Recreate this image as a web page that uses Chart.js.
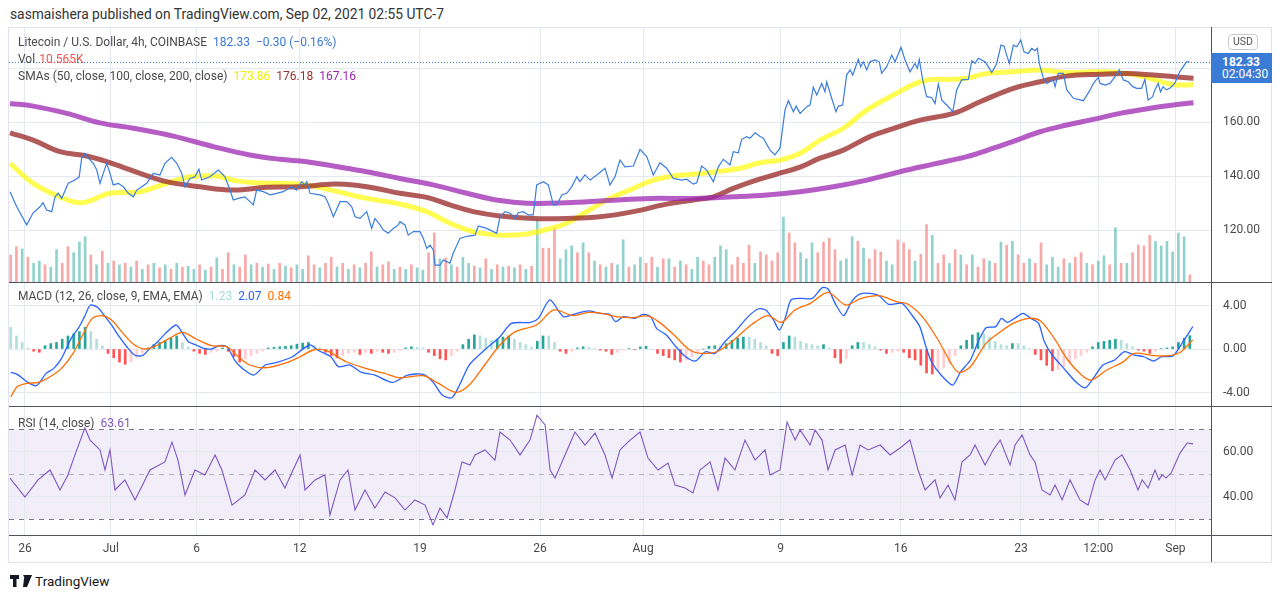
<!DOCTYPE html>
<html>
<head>
<meta charset="utf-8">
<script src="https://cdn.jsdelivr.net/npm/chart.js@4.4.0/dist/chart.umd.min.js"></script>
<style>
  body { margin: 0; background: #fff; width: 1280px; height: 598px; position: relative; overflow: hidden;
         font-family: Roboto, "Open Sans", sans-serif; color: #4a4a4a; }
  canvas { position: absolute; left: 9px; }
  .txt { position: absolute; white-space: nowrap; font-size: 12px; line-height: 16px; }
  .txt span { margin-left: 6px; }
  #frame { position: absolute; left: 8px; top: 27px; width: 1264px; height: 536px; box-sizing: border-box; border: 1px solid #e0e3eb; }
  #tag { position: absolute; left: 1211px; width: 61px; height: 30px; box-sizing: border-box; padding: 3px 0 0 11px;
         background: #3a7bd5; color: #fff; font-size: 12px; line-height: 12px; }
  #usd { position: absolute; left: 1228px; top: 34px; width: 30px; height: 16px; box-sizing: border-box; border: 1px solid #c9cbd1;
         border-radius: 4px; font-size: 10.5px; line-height: 14px; text-align: center; color: #555; background: #fff; }
</style>
</head>
<body>
<div class="txt" style="left:10px;top:6px;font-size:13.8px;color:#333">sasmaishera published on TradingView.com, Sep 02, 2021 02:55 UTC-7</div>
<div id="frame"></div>
<canvas id="cPrice" width="1263" height="256" style="top:27px"></canvas>
<canvas id="cMacd" width="1263" height="124" style="top:283px"></canvas>
<canvas id="cRsi" width="1263" height="155" style="top:407px"></canvas>

<div class="txt" style="left:18px;top:34px">Litecoin / U.S. Dollar, 4h, COINBASE<span style="color:#3a78d8">182.33</span><span style="color:#3a78d8">−0.30 (−0.16%)</span></div>
<div class="txt" style="left:18px;top:51px">Vol<span style="color:#ef5350;margin-left:4px">10.565K</span></div>
<div class="txt" style="left:18px;top:68px">SMAs (50, close, 100, close, 200, close)<span style="color:#f2f000">173.86</span><span style="color:#9c3030">176.18</span><span style="color:#9c27b0">167.16</span></div>
<div class="txt" style="left:18px;top:288px">MACD (12, 26, close, 9, EMA, EMA)<span style="color:#a6dcd5">1.23</span><span style="color:#2962ff">2.07</span><span style="color:#ff6d00">0.84</span></div>
<div class="txt" style="left:18px;top:415px">RSI (14, close)<span style="color:#7e57c2">63.61</span></div>

<div id="usd">USD</div>
<div id="tag"><b id="tagPrice"></b><br><span id="tagTime"></span></div>

<div class="txt" style="left:10px;top:573px;font-size:13.5px;color:#131722">
  <svg width="22" height="12" viewBox="0 0 22 12" style="vertical-align:-1px">
    <path d="M0 0h9v4H6.5v8H3V4H0z M10 0h3.2a2 2 0 1 1 0 .01z" fill="#131722"/>
    <path d="M14.5 0H22l-5 12h-4z" fill="#131722"/>
  </svg> TradingView</div>

<script>
// time axis: days since Jun 26 00:00
const xMin = -0.93, xMax = 69.07;
const timeTickDays = [0, 5, 10, 16, 23, 30, 36, 44, 51, 58, 62.5, 67];
const timeTickLabels = ['26', 'Jul', '6', '12', '19', '26', 'Aug', '9', '16', '23', '12:00', 'Sep'];

const priceTicks = [120, 140, 160, 180];
const macdTicks = [-4, 0, 4];
const rsiTicks = [40, 60];
const rsiLevels = [30, 50, 70];
const lastPrice = 182.33;
const countdown = '02:04:30';

// close price [day, value]
const priceLine = [
  [-0.87,134.2],[-0.48,128.6],[0.10,121.9],[0.47,126.3],[0.87,128.6],[1.05,130.1],[1.26,127.4],[1.56,126.8],[1.75,132.3],[1.94,133.6],
  [2.14,131.7],[2.43,136.0],[2.52,137.3],[2.91,138.5],[3.16,139.7],[3.30,146.6],[3.49,148.4],[3.69,146.6],[3.98,144.7],[4.18,142.2],
  [4.37,137.3],[4.56,141.0],[4.76,144.7],[4.95,141.0],[5.14,136.7],[5.43,137.3],[5.73,136.0],[6.02,133.6],[6.31,132.3],[6.51,134.8],
  [6.80,136.0],[7.09,137.3],[7.47,141.0],[7.86,140.4],[8.15,144.7],[8.54,146.9],[8.84,144.7],[9.13,141.0],[9.32,136.0],[9.61,139.1],
  [9.90,139.7],[10.13,142.5],[10.29,138.5],[10.77,139.7],[11.26,142.2],[11.65,139.7],[11.94,134.8],[12.13,131.1],[12.42,131.7],[12.81,132.3],
  [13.10,130.5],[13.30,129.3],[13.49,134.8],[13.88,134.2],[14.27,133.0],[14.66,133.6],[15.04,134.2],[15.53,136.0],[15.82,134.8],[16.12,137.9],
  [16.31,136.7],[16.41,137.9],[16.60,133.6],[17.18,133.0],[17.47,132.3],[17.66,129.9],[17.96,124.9],[18.35,130.5],[18.74,130.5],[19.03,128.6],
  [19.22,124.9],[19.51,124.3],[19.90,126.8],[20.19,120.6],[20.38,124.3],[20.68,121.9],[20.87,120.0],[21.16,118.8],[21.45,120.6],[21.74,121.9],
  [21.84,123.1],[22.13,121.9],[22.32,118.1],[22.62,119.4],[23.01,119.4],[23.20,116.9],[23.40,113.2],[23.59,114.4],[23.78,112.6],[23.88,107.0],
  [24.17,107.0],[24.36,108.9],[24.56,108.3],[24.75,107.7],[24.94,111.4],[25.33,116.9],[25.63,117.5],[25.92,117.8],[26.21,118.1],[26.40,121.5],
  [26.89,120.6],[27.47,118.8],[27.66,124.9],[27.96,126.8],[28.25,126.2],[28.54,124.3],[28.73,126.4],[29.02,126.8],[29.31,125.6],[29.60,125.6],
  [29.80,136.7],[30.19,137.9],[30.48,136.7],[30.77,129.3],[30.97,129.3],[31.26,133.0],[31.55,133.6],[31.84,136.0],[32.14,139.7],[32.32,137.9],
  [32.61,140.4],[32.91,138.5],[33.30,140.4],[33.78,142.9],[34.07,136.7],[34.36,139.7],[34.65,145.9],[34.94,143.4],[35.43,143.7],[35.82,149.9],
  [36.21,147.2],[36.59,140.4],[36.98,144.9],[37.37,142.9],[37.76,139.1],[38.25,138.5],[38.54,138.8],[38.92,137.0],[39.12,137.5],[39.41,143.7],
  [39.70,142.2],[40.09,137.9],[40.38,143.4],[40.67,146.2],[41.06,144.1],[41.25,149.0],[41.54,148.6],[41.74,153.6],[42.03,154.6],[42.22,154.0],
  [42.52,156.0],[42.81,154.6],[43.00,154.0],[43.39,149.6],[43.68,147.8],[43.97,150.3],[44.26,164.4],[44.46,167.9],[44.75,163.8],[44.91,165.9],
  [45.14,163.2],[45.53,165.7],[45.72,166.3],[45.91,172.9],[46.11,170.0],[46.40,174.3],[46.59,171.2],[46.69,174.9],[46.98,168.8],[47.23,163.8],
  [47.37,165.9],[47.62,166.3],[47.85,177.4],[48.05,179.3],[48.21,177.4],[48.53,183.2],[48.67,180.5],[48.82,182.3],[49.02,179.3],[49.21,182.3],
  [49.50,183.0],[49.75,182.3],[49.89,178.0],[50.18,180.5],[50.48,184.8],[50.67,182.3],[51.02,187.7],[51.25,183.0],[51.54,178.6],[51.83,181.7],
  [51.97,179.9],[52.08,183.2],[52.28,175.6],[52.51,169.4],[52.80,169.1],[53.00,166.9],[53.19,174.1],[53.39,168.1],[53.68,166.3],[54.03,163.8],
  [54.26,171.9],[54.55,175.6],[54.94,175.8],[55.14,182.7],[55.33,181.7],[55.52,183.6],[55.91,182.3],[56.10,180.5],[56.30,178.3],[56.59,181.7],
  [56.84,188.5],[57.02,188.1],[57.17,184.8],[57.33,181.7],[57.56,188.5],[57.76,187.9],[57.99,190.4],[58.18,186.0],[58.43,185.4],[58.63,187.3],
  [58.82,186.4],[58.96,187.3],[59.07,181.7],[59.31,176.2],[59.50,174.3],[59.89,175.6],[59.99,173.1],[60.18,178.0],[60.47,178.0],[60.67,171.9],
  [61.06,168.8],[61.64,167.9],[62.03,171.9],[62.22,174.3],[62.51,176.6],[62.61,174.3],[62.90,173.7],[63.19,174.3],[63.48,176.8],[63.73,179.3],
  [63.96,175.6],[64.25,174.9],[64.51,173.1],[64.74,172.5],[65.03,172.5],[65.22,175.8],[65.41,168.1],[65.67,169.4],[65.80,171.9],[65.99,174.3],
  [66.13,171.2],[66.28,173.1],[66.47,171.9],[66.67,172.5],[66.96,174.3],[67.25,178.6],[67.64,182.3],[67.83,182.33]
];

const sma50 = [
  [-0.87,144.7],[0.48,137.3],[2.04,132.3],[3.30,130.1],[4.95,133.6],[6.70,134.2],[8.25,137.3],[9.61,139.7],[11.16,140.0],[12.13,138.5],
  [13.30,137.5],[16.02,137.0],[17.96,134.6],[19.90,131.7],[21.84,129.6],[23.40,126.8],[24.75,122.5],[26.11,119.4],[27.66,118.1],[29.22,118.5],
  [30.38,120.2],[31.55,122.5],[32.71,126.8],[33.88,131.1],[35.43,135.4],[36.59,138.5],[37.76,140.0],[38.92,140.7],[40.28,141.6],[41.64,142.9],
  [42.81,144.9],[43.97,145.9],[45.14,148.4],[46.30,153.3],[47.66,157.7],[49.02,164.4],[50.57,170.0],[52.32,175.3],[53.87,175.8],[54.85,176.2],
  [56.01,178.0],[57.56,178.6],[59.11,179.3],[60.67,178.3],[62.22,178.6],[63.77,178.3],[65.52,176.2],[66.49,174.3],[67.08,173.7],[68.05,173.86]
];
const sma100 = [
  [-0.87,156.0],[0.48,153.3],[2.04,149.0],[3.59,147.4],[4.76,145.3],[6.70,141.0],[8.25,137.9],[10.19,136.0],[12.13,134.8],[14.08,135.8],
  [16.02,136.0],[17.96,137.0],[19.13,136.7],[20.48,135.4],[21.84,133.6],[23.40,132.1],[24.75,129.3],[26.11,126.8],[27.66,125.2],[29.60,124.3],
  [31.55,124.3],[33.49,124.9],[35.43,126.8],[37.37,129.6],[38.92,131.1],[40.09,132.3],[41.25,135.4],[42.42,138.1],[43.78,140.7],[45.14,143.3],
  [46.30,146.6],[47.66,149.6],[49.21,154.6],[50.77,158.0],[52.13,160.7],[54.07,163.2],[55.62,167.5],[57.56,172.5],[59.11,174.9],[60.67,177.0],
  [62.61,177.7],[64.16,178.0],[65.71,177.4],[66.88,176.8],[68.05,176.18]
];
const sma200 = [
  [-0.87,166.9],[0.48,165.9],[2.43,163.2],[4.37,159.7],[6.31,157.7],[8.64,154.8],[10.97,150.9],[13.10,147.8],[14.85,146.2],[16.41,145.3],
  [17.96,143.7],[19.90,141.6],[21.84,139.1],[23.78,136.7],[25.73,133.6],[27.66,130.9],[29.22,129.9],[31.55,130.1],[33.88,130.9],[36.40,131.7],
  [38.92,131.7],[41.25,132.3],[43.20,133.0],[45.14,134.2],[47.08,136.0],[49.02,138.5],[50.96,141.6],[52.90,144.4],[54.85,147.2],[56.40,150.3],
  [57.76,153.3],[59.11,156.4],[60.67,158.9],[62.22,161.0],[63.77,163.2],[65.52,165.1],[66.88,166.3],[68.05,167.16]
];

// bars every 8 hours starting at barStart
const barStart = -0.83, barStep = 1 / 3;
const volumeK = [
  37,48,45,34,26,29,24,21,44,26, 48,40,54,61,37,24,42,26,29,24, 26,21,29,18,24,26,20,24,18,26,
  21,22,18,24,17,21,33,18,40,24, 21,37,24,26,21,25,18,26,22,20, 24,18,36,24,20,26,34,21,26,18,
  24,20,26,41,21,24,28,18,21,18, 24,20,17,40,66,32,33,24,21,34, 26,22,20,32,18,24,21,22,20,24,
  18,22,83,46,46,73,32,44,49,40, 53,40,29,24,21,26,24,57,21,24, 34,26,34,21,32,32,21,29,24,18,
  34,29,24,34,49,44,24,34,26,50, 26,41,37,29,40,87,66,53,40,32, 53,40,54,59,44,29,32,61,55,46,
  32,44,41,29,24,57,53,44,29,38, 77,63,26,37,26,44,37,24,37,21, 32,29,26,54,50,55,37,26,32,26,
  53,24,34,21,32,26,34,40,26,24, 29,36,24,73,26,26,40,50,49,63, 55,49,55,41,66,61,10.565
];
const volUp = [
  0,0,1,0,1,1,0,1,1,0, 0,1,1,1,0,1,0,1,0,1, 0,1,0,1,0,1,0,1,0,1, 0,1,1,0,1,0,1,0,0,1,
  0,0,1,0,1,0,1,0,1,0, 1,1,0,0,1,0,0,1,0,1, 0,1,0,0,1,0,0,1,0,1, 0,1,1,0,0,1,0,1,0,1,
  1,0,1,0,1,0,1,0,1,0, 1,0,1,0,0,0,1,1,1,0, 1,0,1,0,1,0,1,1,0,1, 1,0,0,1,0,1,0,1,0,1,
  1,0,0,1,1,1,0,0,0,0, 1,0,0,0,0,1,0,0,1,1, 1,0,0,0,0,1,1,1,0,1, 0,0,0,1,1,0,0,0,1,0,
  0,1,0,0,1,0,1,0,1,0, 0,1,0,1,0,1,0,0,1,0, 0,1,1,1,0,1,0,0,1,0, 1,1,0,1,0,1,0,0,0,0,
  1,1,1,1,1,1,0
];
const macdHist = [
  2.0,1.2,0.6,0.1,-0.2,-0.3,0.3,0.5,0.6,0.9, 1.2,1.4,1.6,2.0,1.6,0.9,0.3,-0.4,-0.8,-1.2,
  -1.4,-1.2,-0.8,-0.4,0.1,0.4,0.6,0.8,1.0,1.2, 0.6,0.2,-0.2,-0.4,-0.5,-0.3,-0.2,0.1,-0.2,-0.7,
  -1.2,-0.9,-0.6,-0.4,-0.2,0.1,0.15,0.2,0.25,0.3, 0.45,0.55,0.6,0.3,0.1,-0.3,-0.6,-0.8,-0.6,-0.4,
  -0.3,-0.5,-0.3,-0.4,-0.2,-0.3,-0.4,-0.3,-0.15,0.1, 0.2,0.15,0.1,-0.3,-0.6,-0.9,-1.0,-0.6,-0.2,0.4,
  0.9,1.3,1.2,1.0,0.8,0.9,1.1,1.2,0.9,0.6, 0.4,0.2,0.7,1.2,1.2,0.6,-0.2,-0.4,-0.2,0.1,
  0.2,0.15,0.05,-0.1,-0.2,-0.5,-0.3,-0.1,0.05,-0.05, 0.2,0.25,0.0,-0.4,-0.6,-0.8,-1.0,-1.2,-1.0,-0.7,
  -0.4,0.0,0.25,0.3,0.3,0.5,0.8,1.0,1.1,1.1, 0.9,0.6,0.3,-0.4,-0.6,0.6,1.2,1.1,0.7,0.5,
  0.4,0.3,0.4,0.1,-0.8,-1.3,-0.9,0.3,0.6,0.6, 0.4,0.2,-0.1,-0.4,-0.3,-0.2,-0.3,-0.8,-1.0,-1.5,
  -2.2,-2.3,-2.0,-1.7,-1.3,-0.6,0.3,0.8,1.3,1.5, 1.4,1.1,0.7,0.4,0.3,0.5,0.5,0.3,0.05,-0.5,
  -1.0,-1.5,-2.0,-1.9,-1.6,-1.3,-0.9,-0.6,-0.3,0.2, 0.6,0.7,0.8,0.9,0.8,0.5,0.2,-0.1,-0.2,-0.4,
  -0.2,0.05,0.1,0.2,0.6,1.0,1.23
];

const macdLine = [
  [-0.83,-2.15],[-0.45,-2.33],[0.11,-3.01],[0.67,-3.37],[1.23,-2.24],[1.68,-1.78],[2.13,-0.86],[2.69,0.98],[3.13,1.96],[3.47,2.98],
  [3.81,4.05],[4.26,3.80],[4.59,3.13],[5.04,2.21],[5.49,1.13],[5.93,0.21],[6.38,-0.55],[6.83,-0.61],[7.28,0.06],[7.73,0.67],
  [8.18,1.44],[8.80,2.21],[9.18,1.44],[9.52,0.67],[9.97,0.37],[10.41,0.06],[10.86,0.0],[11.31,0.31],[11.76,0.21],[12.21,-1.01],
  [12.66,-1.78],[13.33,-2.39],[14.00,-1.47],[14.67,-1.23],[15.57,-0.71],[16.58,0.37],[17.14,-0.18],[17.81,-0.71],[18.26,-1.63],[18.93,-1.47],
  [19.60,-2.15],[20.38,-2.39],[21.39,-3.07],[22.29,-2.39],[23.19,-2.33],[23.75,-3.01],[24.30,-4.23],[24.86,-4.48],[25.31,-3.31],[25.87,-1.47],
  [26.77,-0.09],[27.66,1.13],[28.33,2.36],[29.45,2.45],[29.90,2.82],[30.57,4.51],[31.36,2.98],[32.14,3.28],[32.81,3.50],[33.49,3.28],
  [34.05,3.19],[34.40,2.52],[34.85,2.98],[35.53,2.82],[35.99,3.19],[36.44,2.98],[36.78,1.90],[37.35,1.29],[37.91,0.21],[38.48,-0.71],
  [39.05,-1.10],[39.62,-0.25],[40.19,-0.40],[40.76,0.67],[41.44,1.75],[42.11,2.98],[42.69,3.68],[43.14,3.59],[43.59,2.67],[43.93,1.75],
  [44.27,2.82],[44.61,4.51],[45.18,4.66],[45.86,4.66],[46.43,5.64],[46.77,5.52],[47.23,4.05],[47.68,3.07],[48.14,4.36],[48.59,5.03],
  [49.16,5.12],[49.73,4.91],[50.29,4.11],[51.08,4.20],[51.65,3.13],[52.11,2.06],[52.44,0.37],[52.79,-1.17],[53.35,-2.39],[54.03,-3.31],
  [54.49,-2.09],[55.06,-1.01],[55.51,0.67],[55.97,1.96],[56.53,2.06],[56.87,2.82],[57.21,2.45],[57.78,2.98],[58.12,3.28],[58.58,2.82],
  [59.03,2.36],[59.37,0.67],[59.82,-0.55],[60.50,-1.78],[61.19,-3.01],[61.76,-3.56],[62.21,-2.70],[62.78,-1.47],[63.46,-1.01],[64.03,-0.25],
  [64.60,-0.55],[65.16,-0.71],[65.73,-1.10],[66.19,-0.71],[66.87,-0.61],[67.44,0.67],[68.01,2.07]
];
const signalLine = [
  [-0.83,-4.39],[-0.45,-3.47],[0.11,-3.16],[0.79,-3.07],[1.46,-2.55],[2.13,-1.78],[2.80,-0.40],[3.36,1.29],[3.92,2.82],[4.48,3.07],
  [5.04,2.67],[5.71,1.44],[6.38,0.37],[7.06,0.0],[7.73,0.37],[8.40,0.98],[9.18,1.53],[9.97,0.92],[10.86,0.31],[11.76,0.21],
  [12.43,-0.71],[13.10,-1.47],[14.00,-1.72],[15.12,-1.32],[16.02,-0.71],[16.80,-0.09],[17.58,-0.18],[18.71,-1.17],[19.83,-1.78],[20.94,-2.24],
  [21.84,-2.64],[23.19,-2.45],[24.08,-3.16],[25.09,-3.99],[25.87,-3.31],[26.77,-1.47],[27.66,0.37],[28.56,1.60],[29.79,2.21],[30.80,3.59],
  [31.92,3.07],[32.81,3.37],[33.59,3.28],[34.40,2.98],[35.30,2.88],[36.21,3.04],[36.89,2.52],[37.80,1.29],[38.71,-0.09],[39.39,-0.40],
  [40.30,-0.25],[41.21,0.74],[42.34,2.27],[43.25,3.07],[44.05,2.45],[44.84,3.59],[45.74,4.20],[46.77,5.21],[47.79,4.05],[48.70,4.66],
  [49.73,4.91],[50.74,4.36],[51.43,4.11],[52.34,2.82],[53.24,0.67],[53.93,-1.32],[54.38,-2.15],[55.06,-1.63],[55.97,0.52],[56.87,1.66],
  [57.55,2.36],[58.46,2.82],[59.14,2.58],[59.94,0.98],[60.73,-1.01],[61.53,-2.39],[62.10,-2.85],[63.00,-1.93],[63.91,-1.23],[64.60,-0.40],
  [65.73,-0.61],[66.64,-0.61],[67.32,-0.25],[68.01,0.84]
];

const rsiLine = [
  [-0.87,48.4],[0.00,40.0],[0.76,47.6],[1.46,52.0],[2.04,43.1],[2.50,49.8],[2.91,58.7],[3.49,70.7],[3.79,65.3],[4.37,60.9],
  [4.66,52.0],[4.95,60.9],[5.24,43.1],[5.82,47.6],[6.41,38.7],[7.28,52.0],[8.15,55.6],[8.56,64.4],[8.91,56.4],[9.32,40.9],
  [9.90,52.0],[10.48,49.8],[11.07,58.7],[11.47,52.0],[12.06,36.4],[12.81,40.9],[13.40,52.0],[13.98,47.6],[14.56,52.0],[15.14,44.0],
  [15.61,52.0],[16.02,58.7],[16.31,43.1],[16.89,47.6],[17.47,49.8],[17.76,32.0],[18.35,47.6],[18.81,52.0],[19.22,34.2],[19.80,43.1],
  [20.38,35.1],[20.97,42.2],[21.55,39.6],[22.13,34.2],[22.71,38.7],[23.30,36.4],[23.76,27.6],[24.17,35.1],[24.58,30.7],[25.04,43.1],
  [25.45,55.6],[25.92,54.2],[26.21,58.7],[26.79,60.9],[27.37,56.4],[27.66,68.9],[28.25,65.3],[28.83,58.7],[29.41,65.3],[29.82,76.4],
  [30.29,72.0],[30.58,52.0],[30.87,48.4],[31.45,58.7],[32.03,68.9],[32.61,63.1],[33.20,68.4],[33.78,58.7],[34.19,48.4],[34.65,60.9],
  [35.24,65.3],[35.82,68.9],[36.28,57.3],[36.87,52.0],[37.45,55.1],[37.86,45.3],[38.44,44.0],[38.90,41.8],[39.31,52.0],[39.90,55.6],
  [40.36,43.1],[40.77,57.3],[41.35,52.0],[41.93,65.3],[42.52,56.4],[43.10,60.9],[43.39,49.8],[43.97,52.0],[44.38,73.3],[44.85,65.3],
  [45.14,69.8],[45.72,63.1],[46.01,69.8],[46.42,65.3],[46.77,52.0],[47.18,60.9],[47.76,63.1],[48.17,49.8],[48.63,63.1],[49.10,60.9],
  [49.80,63.1],[50.38,58.7],[50.96,61.8],[51.54,65.3],[52.01,52.0],[52.42,43.1],[53.00,47.6],[53.29,39.6],[53.76,45.3],[54.16,38.7],
  [54.57,55.6],[55.04,58.7],[55.33,63.1],[55.91,54.2],[56.38,60.9],[56.79,65.3],[57.37,54.2],[57.66,63.1],[58.07,67.6],[58.53,58.7],
  [58.82,55.6],[59.23,43.1],[59.70,40.9],[59.99,45.3],[60.40,38.7],[60.86,47.6],[61.44,38.7],[61.91,36.4],[62.32,47.6],[62.61,52.0],
  [62.90,47.6],[63.48,56.4],[63.89,58.7],[64.36,52.0],[64.82,43.1],[65.06,47.6],[65.41,44.0],[65.81,52.0],[66.04,47.6],[66.22,49.8],
  [66.45,48.4],[66.75,50.7],[67.27,59.6],[67.68,64.0],[68.03,63.61]
];

const GRID = '#e4e9f0';
const INK = '#4a4a4a';
const FONT = 'Roboto, "Open Sans", sans-serif';
const pts = arr => arr.map(([x, y]) => ({ x, y }));
const bars = arr => arr.map((y, i) => ({ x: barStart + i * barStep, y }));

Chart.defaults.font.family = FONT;
Chart.defaults.animation = false;
Chart.defaults.events = [];
Chart.defaults.plugins.legend.display = false;
Chart.defaults.plugins.tooltip.enabled = false;
Chart.defaults.elements.point.radius = 0;

function xAxis(showLabels) {
  return {
    type: 'linear', min: xMin, max: xMax, offset: false,
    afterBuildTicks: s => { s.ticks = timeTickDays.map(v => ({ value: v })); },
    afterFit: s => { s.height = showLabels ? 27 : 0; s.paddingLeft = 0; s.paddingRight = 0; },
    grid: { color: GRID, drawTicks: false, offset: false },
    border: { display: false },
    ticks: {
      display: showLabels, autoSkip: false, maxRotation: 0, padding: 7, color: INK,
      font: { size: 12 }, callback: (v, i) => timeTickLabels[i]
    }
  };
}

function yAxis(min, max, ticks, fmt) {
  return {
    position: 'right', min, max,
    afterBuildTicks: s => { s.ticks = ticks.map(v => ({ value: v })); },
    afterFit: s => { s.width = 61; s.paddingTop = 0; s.paddingBottom = 0; },
    grid: { color: GRID, drawTicks: false },
    border: { display: false },
    ticks: { padding: 12, color: INK, font: { size: 12 }, callback: fmt }
  };
}

// dark separators under each pane and the price axis edge
const paneBorders = {
  id: 'paneBorders',
  afterDraw(chart) {
    const { ctx, chartArea: a, width, height } = chart;
    ctx.save();
    ctx.strokeStyle = '#50535e';
    ctx.lineWidth = 1;
    ctx.beginPath();
    const yb = Math.min(Math.round(a.bottom), height - 1) + 0.5;
    ctx.moveTo(0, yb); ctx.lineTo(width, yb);
    const xr = Math.round(a.right) + 0.5;
    ctx.moveTo(xr, 0); ctx.lineTo(xr, height);
    ctx.stroke();
    ctx.restore();
  }
};

// dotted last-price line and the price tag on the axis
const lastPriceLine = {
  id: 'lastPriceLine',
  beforeDatasetsDraw(chart) {
    const { ctx, chartArea: a } = chart;
    const y = Math.round(chart.scales.y.getPixelForValue(lastPrice)) + 0.5;
    ctx.save();
    ctx.strokeStyle = '#3a78d8';
    ctx.lineWidth = 1;
    ctx.setLineDash([1, 2]);
    ctx.beginPath(); ctx.moveTo(a.left, y); ctx.lineTo(a.right, y); ctx.stroke();
    ctx.restore();
  },
  afterDraw(chart) {
    const y = chart.scales.y.getPixelForValue(lastPrice) + chart.canvas.offsetTop;
    const tag = document.getElementById('tag');
    tag.style.top = (y - 9) + 'px';
    document.getElementById('tagPrice').textContent = lastPrice.toFixed(2);
    document.getElementById('tagTime').textContent = countdown;
  }
};

// RSI band and level lines
const rsiBand = {
  id: 'rsiBand',
  beforeDraw(chart) {
    const { ctx, chartArea: a, scales } = chart;
    const y1 = scales.y.getPixelForValue(rsiLevels[2]);
    const y0 = scales.y.getPixelForValue(rsiLevels[0]);
    ctx.save();
    ctx.fillStyle = 'rgba(126,87,194,0.1)';
    ctx.fillRect(a.left, y1, a.right - a.left, y0 - y1);
    ctx.restore();
  },
  beforeDatasetsDraw(chart) {
    const { ctx, chartArea: a, scales } = chart;
    ctx.save();
    ctx.lineWidth = 1;
    ctx.setLineDash([5, 5]);
    rsiLevels.forEach((lv, i) => {
      const y = Math.round(scales.y.getPixelForValue(lv)) + 0.5;
      ctx.strokeStyle = i === 1 ? 'rgba(120,123,134,0.5)' : '#787b86';
      ctx.beginPath(); ctx.moveTo(a.left, y); ctx.lineTo(a.right, y); ctx.stroke();
    });
    ctx.restore();
  }
};

const baseOpts = { responsive: false, devicePixelRatio: 1, layout: { padding: 0 } };

new Chart(document.getElementById('cPrice'), {
  type: 'line',
  data: {
    datasets: [
      { data: pts(priceLine), borderColor: '#3b7ddd', borderWidth: 1.2, tension: 0, order: 0 },
      { data: pts(sma200), borderColor: 'rgba(156,39,176,0.75)', borderWidth: 5, tension: 0.4, order: 1 },
      { data: pts(sma100), borderColor: 'rgba(150,35,35,0.75)', borderWidth: 5, tension: 0.4, order: 2 },
      { data: pts(sma50), borderColor: 'rgba(255,250,0,0.68)', borderWidth: 5, tension: 0.4, order: 3 },
      {
        type: 'bar', data: bars(volumeK), yAxisID: 'yv', order: 4, barThickness: 2,
        backgroundColor: volUp.map(u => u ? 'rgba(38,166,154,0.5)' : 'rgba(239,83,80,0.5)')
      }
    ]
  },
  options: {
    ...baseOpts,
    scales: {
      x: xAxis(false),
      y: yAxis(100.37, 195.2, priceTicks, v => v === 180 ? '' : v.toFixed(2)),
      yv: { display: false, min: 0, max: 338 }
    }
  },
  plugins: [paneBorders, lastPriceLine]
});

const histColors = macdHist.map((v, i) => {
  const prev = i > 0 ? macdHist[i - 1] : v;
  if (v >= 0) return v > prev ? '#26a69a' : '#b2dfdb';
  return v > prev ? '#ffcdd2' : '#ff5252';
});

new Chart(document.getElementById('cMacd'), {
  type: 'line',
  data: {
    datasets: [
      { data: pts(signalLine), borderColor: '#ff6d00', borderWidth: 1.3, tension: 0.3, order: 0 },
      { data: pts(macdLine), borderColor: '#2962ff', borderWidth: 1.3, tension: 0.25, order: 1 },
      { type: 'bar', data: bars(macdHist), backgroundColor: histColors, barThickness: 2, order: 2 }
    ]
  },
  options: {
    ...baseOpts,
    scales: {
      x: xAxis(false),
      y: yAxis(-5.33, 6.07, macdTicks, v => v.toFixed(2))
    }
  },
  plugins: [paneBorders]
});

new Chart(document.getElementById('cRsi'), {
  type: 'line',
  data: {
    datasets: [
      { data: pts(rsiLine), borderColor: '#7e57c2', borderWidth: 1.1, tension: 0 }
    ]
  },
  options: {
    ...baseOpts,
    scales: {
      x: xAxis(true),
      y: yAxis(23.1, 80, rsiTicks, v => v.toFixed(2))
    }
  },
  plugins: [paneBorders, rsiBand]
});
</script>
</body>
</html>
